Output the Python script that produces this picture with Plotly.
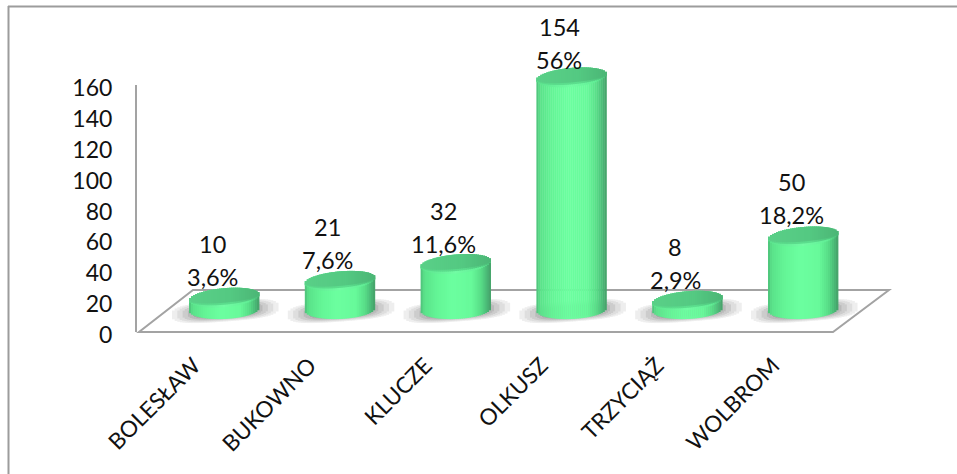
import math
import plotly.graph_objects as go

categories = ["BOLESŁAW", "BUKOWNO", "KLUCZE", "OLKUSZ", "TRZYCIĄŻ", "WOLBROM"]
counts = [10, 21, 32, 154, 8, 50]
shares = ["3,6%", "7,6%", "11,6%", "56%", "2,9%", "18,2%"]
y_ticks = [0, 20, 40, 60, 80, 100, 120, 140, 160]
label_lift = [20, 20, 20, 17, 20, 21]

W, H = 957, 474
L, R, T, B = 137, 889, 20, 332
AXIS_TOP = 85
BASE_PY = 312.5
SCALE = 1.53           # px per unit on the hidden cylinder axis
STEP = 115.8
C0 = 224
FONT = "Lato, Carlito, Calibri, sans-serif"
GRAY = "#a3a3a3"

x_rng = [(L - C0) / STEP, (R - C0) / STEP]
y2_rng = [-(B - BASE_PY) / SCALE, (BASE_PY - T) / SCALE]


def px(v):
    return (v - L) / (R - L)


def py(v):
    return (B - v) / (B - T)


def mix(stops, t):
    for (a, ca), (b, cb) in zip(stops, stops[1:]):
        if a <= t <= b:
            f = (t - a) / (b - a) if b > a else 0
            return "rgb(%d,%d,%d)" % tuple(ca[i] + (cb[i] - ca[i]) * f for i in range(3))
    return "rgb(%d,%d,%d)" % stops[-1][1]


BODY = [(-1, (76, 190, 120)), (-0.9, (90, 226, 138)), (-0.55, (100, 245, 150)),
        (-0.1, (108, 255, 160)), (0.45, (104, 250, 155)), (0.72, (88, 222, 136)),
        (0.9, (74, 184, 118)), (1, (70, 160, 105))]
CAP_RIM = [(-1, (92, 228, 142)), (0, (114, 252, 164)), (0.7, (98, 238, 150)), (1, (76, 190, 122))]
CAP_MID = [(-1, (90, 216, 138)), (0.2, (92, 222, 142)), (1, (76, 186, 120))]
CAP = [(-1, (90, 208, 136)), (0.2, (84, 201, 130)), (1, (76, 182, 118))]

N = 35
HALF = 35 / STEP       # half cylinder width in category units
EH = 9.0 / SCALE       # half height of the end ellipses
TILT = 3.0 / SCALE     # rim rise from left to right


def strip_trace(color_fn, lo_fn, hi_fn, half=HALF, n=N, shift=0.0):
    xs, base, hgt, off, wid, col = [], [], [], [], [], []
    dx = 2 * half / n
    for cat, v in zip(categories, counts):
        for k in range(n):
            t = (k + 0.5) / n * 2 - 1
            lo, hi = lo_fn(v, t), hi_fn(v, t)
            xs.append(cat)
            base.append(lo)
            hgt.append(hi - lo)
            off.append(shift + t * half - dx / 2)
            wid.append(dx * 1.2)
            col.append(color_fn(t))
    return go.Bar(x=xs, y=hgt, base=base, offset=off, width=wid, yaxis="y2",
                  marker=dict(color=col, line=dict(width=0)), hoverinfo="skip", showlegend=False)


def el(t):
    return math.sqrt(max(0, 1 - t * t))


fig = go.Figure()

# soft floor shadows
for sc, g in [(1.0, 238), (0.9, 222), (0.8, 204), (0.7, 186), (0.6, 168), (0.5, 152)]:
    c = "rgb(%d,%d,%d)" % (g, g, g)
    sh_half = 53 / STEP * sc
    sh_h = 10.5 * sc / SCALE
    sh_tilt = 4 * sc / SCALE
    fig.add_trace(strip_trace(
        lambda t, c=c: c,
        lambda v, t, h=sh_h, tl=sh_tilt: 1.5 / SCALE + tl * t - h * (1 - abs(t) ** 3) ** (1 / 3),
        lambda v, t, h=sh_h, tl=sh_tilt: 1.5 / SCALE + tl * t + h * (1 - abs(t) ** 3) ** (1 / 3),
        half=sh_half, n=40, shift=1 / STEP))

# cylinder side
fig.add_trace(strip_trace(lambda t: mix(BODY, t),
                          lambda v, t: 3 / SCALE + TILT * 0.5 * t - 9.5 / SCALE * el(t),
                          lambda v, t: v + TILT * t))
# light rim below the cap, fading into the cap
fig.add_trace(strip_trace(lambda t: mix(CAP_RIM, t),
                          lambda v, t: v + TILT * t - (EH + 1.0 / SCALE) * el(t),
                          lambda v, t: v + TILT * t + EH * el(t)))
fig.add_trace(strip_trace(lambda t: mix(CAP_MID, t),
                          lambda v, t: v + TILT * t - (EH - 1.5 / SCALE) * el(t),
                          lambda v, t: v + TILT * t + EH * el(t)))
fig.add_trace(strip_trace(lambda t: mix(CAP, t),
                          lambda v, t: v + TILT * t - (EH - 3.5 / SCALE) * el(t),
                          lambda v, t: v + TILT * t + EH * el(t)))

# invisible trace so the labelled value axis is active
fig.add_trace(go.Scatter(x=categories, y=[0] * 6, yaxis="y", mode="markers",
                         marker=dict(opacity=0), hoverinfo="skip", showlegend=False))

shapes = [
    dict(type="path", xref="paper", yref="paper", layer="below",
         path="M %f %f L %f %f L %f %f L %f %f Z" % (px(139), py(332), px(833), py(332), px(889), py(290), px(193), py(290)),
         line=dict(color=GRAY, width=2), fillcolor="rgba(255,255,255,0)"),
    dict(type="line", xref="paper", yref="paper", layer="below",
         x0=px(8.5), x1=px(8.5), y0=py(6), y1=py(474), line=dict(color="#9c9c9c", width=2)),
    dict(type="line", xref="paper", yref="paper", layer="below",
         x0=px(8), x1=px(957), y0=py(6.5), y1=py(6.5), line=dict(color="#9c9c9c", width=2)),
]

annotations = []
for cat, v, s, lift in zip(categories, counts, shares, label_lift):
    for txt, dy in ((s, lift), (str(v), lift + 33)):
        annotations.append(dict(x=cat, y=v, xref="x", yref="y2", text=txt, showarrow=False,
                                xanchor="center", yanchor="middle", xshift=-12, yshift=dy,
                                font=dict(family=FONT, size=23.5, color="#111111")))

fig.update_layout(
    width=W, height=H, autosize=False,
    margin=dict(l=L, r=W - R, t=T, b=H - B, pad=0, autoexpand=False),
    paper_bgcolor="white", plot_bgcolor="rgba(0,0,0,0)",
    barmode="overlay", showlegend=False, shapes=shapes, annotations=annotations,
    xaxis=dict(type="category", categoryorder="array", categoryarray=categories,
               range=x_rng, showgrid=False, zeroline=False, showline=False, ticks="",
               tickangle=-45, ticklabelshift=-30, ticklabelstandoff=15,
               tickfont=dict(family=FONT, size=22.5, color="#111111")),
    yaxis=dict(domain=[0, (B - AXIS_TOP) / (B - T)], range=[0, 160], tickvals=y_ticks,
               showgrid=False, zeroline=False, showline=True, linecolor=GRAY, linewidth=2,
               ticks="", ticklabelstandoff=18, ticklabelshift=3,
               tickfont=dict(family=FONT, size=23, color="#111111")),
    yaxis2=dict(domain=[0, 1], anchor="x", range=y2_rng, visible=False, fixedrange=True),
)

fig.write_html("out.html", config=dict(displayModeBar=False),
               post_script="document.body.style.margin='0';document.body.style.overflow='hidden';")
